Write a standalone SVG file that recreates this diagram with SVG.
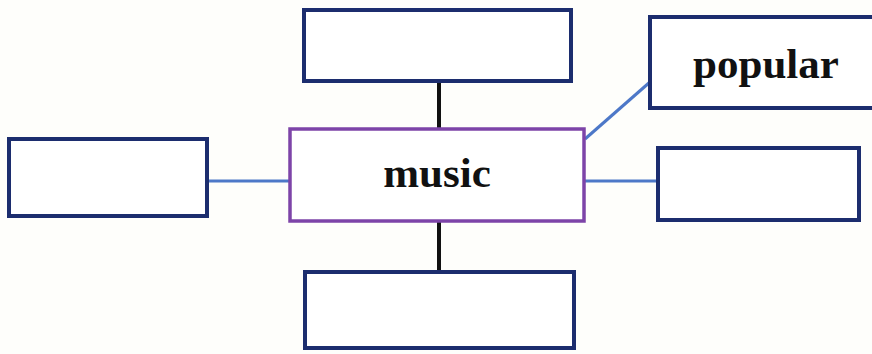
<svg xmlns="http://www.w3.org/2000/svg" width="872" height="354" viewBox="0 0 872 354">
<style>
.box{fill:#fff;stroke:#1c2d6e;stroke-width:4}
.center{fill:#fff;stroke:#7d44a8;stroke-width:3.5}
.lbl{font-family:"Liberation Serif",serif;font-weight:bold;font-size:43px;fill:#111;text-anchor:middle}
.blk{stroke:#111;stroke-width:4;fill:none}
.blu{stroke:#4d78c8;stroke-width:3;fill:none}
</style>
<rect width="872" height="354" fill="#fefefb"/>
<g id="connectors">
<line class="blk" x1="439" y1="82" x2="439" y2="129"/>
<line class="blk" x1="439" y1="222" x2="439" y2="272"/>
<line class="blu" x1="207" y1="181" x2="290" y2="181"/>
<line class="blu" x1="584" y1="181" x2="658" y2="181"/>
<line class="blu" x1="585" y1="139" x2="650" y2="82"/>
</g>
<g id="top"><rect class="box" x="304" y="10" width="267" height="71"/></g>
<g id="left"><rect class="box" x="9" y="139" width="198" height="77"/></g>
<g id="bottom"><rect class="box" x="305" y="272" width="269" height="76"/></g>
<g id="right"><rect class="box" x="658" y="148" width="201" height="72"/></g>
<g id="popular"><rect class="box" x="650" y="17" width="226" height="91"/><text class="lbl" x="766" y="78">popular</text></g>
<g id="music"><rect class="center" x="290" y="129" width="294" height="92"/><text class="lbl" x="437" y="187">music</text></g>
</svg>
